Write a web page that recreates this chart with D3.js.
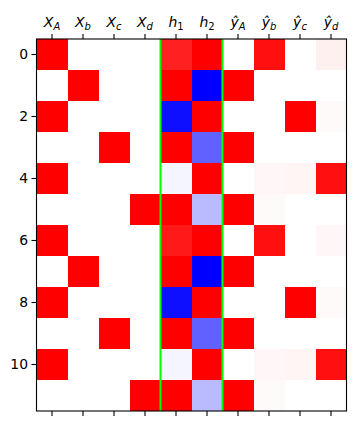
<!DOCTYPE html>
<html><head><meta charset="utf-8">
<script src="https://cdn.jsdelivr.net/npm/d3@7"></script>
<style>body{margin:0;background:#fff}svg{display:block}</style>
</head><body>
<script>
// column labels: [base, subscript, hat]
const colLabels = [["X","A",false],["X","b",false],["X","c",false],["X","d",false],
  ["h","1",false],["h","2",false],["y","A",true],["y","b",true],["y","c",true],["y","d",true]];
const rowIds = d3.range(12);
const rowTicks = [0,2,4,6,8,10];
const separators = [4, 6]; // green lines before these columns
// cell values, rows 0..11, columns XA..yd
const values = [
  [1,0,0,0, 0.87, 1, 0, 0.94, 0, 0.06],
  [0,1,0,0, 1, -1, 1, 0, 0, 0],
  [1,0,0,0, -0.94, 1, 0, 0, 1, 0.02],
  [0,0,1,0, 1, -0.62, 1, 0, 0, 0],
  [1,0,0,0, -0.04, 1, 0, 0.03, 0.04, 0.94],
  [0,0,0,1, 1, -0.27, 1, 0.02, 0, 0],
  [1,0,0,0, 0.9, 1, 0, 0.94, 0, 0.03],
  [0,1,0,0, 1, -1, 1, 0, 0, 0],
  [1,0,0,0, -0.94, 1, 0, 0, 1, 0.02],
  [0,0,1,0, 1, -0.62, 1, 0, 0, 0],
  [1,0,0,0, -0.04, 1, 0, 0.03, 0.04, 0.94],
  [0,0,0,1, 1, -0.27, 1, 0.02, 0, 0]
];

const W = 356, H = 426;
const m = {left: 36.5, right: 9.5, top: 39, bottom: 15};
const svg = d3.select("body").append("svg").attr("width", W).attr("height", H);
const x = d3.scaleBand().domain(d3.range(colLabels.length)).range([m.left, W - m.right]);
const y = d3.scaleBand().domain(rowIds).range([m.top, H - m.bottom]);

function bwr(v){
  v = Math.max(-1, Math.min(1, v));
  if (v < 0) { const c = Math.round(255*(1+v)); return `rgb(${c},${c},255)`; }
  const c = Math.round(255*(1-v)); return `rgb(255,${c},${c})`;
}

const cells = [];
values.forEach((row, i) => row.forEach((v, j) => cells.push({i, j, v})));
svg.append("g").selectAll("rect").data(cells).join("rect")
  .attr("x", d => x(d.j)).attr("y", d => y(d.i))
  .attr("width", x.bandwidth() + 0.3).attr("height", y.bandwidth() + 0.3)
  .attr("fill", d => bwr(d.v)).attr("shape-rendering", "crispEdges");

svg.append("g").selectAll("line").data(separators).join("line")
  .attr("x1", d => x(d)).attr("x2", d => x(d))
  .attr("y1", m.top).attr("y2", H - m.bottom)
  .attr("stroke", "#00ff00").attr("stroke-width", 2);

svg.append("rect").attr("x", m.left).attr("y", m.top)
  .attr("width", W - m.right - m.left).attr("height", H - m.bottom - m.top)
  .attr("fill", "none").attr("stroke", "#000").attr("stroke-width", 1.1);

const font = "DejaVu Sans";
// top axis
const gTop = svg.append("g").attr("transform", `translate(0,${m.top})`)
  .call(d3.axisTop(x).tickSize(5).tickPadding(3));
gTop.select(".domain").remove();
gTop.selectAll("line").attr("stroke", "#000").attr("stroke-width", 1.1);
gTop.selectAll("text").each(function(d){
  const [b, s, hat] = colLabels[d];
  const t = d3.select(this).text("").attr("font-family", font).attr("font-size", 14)
    .attr("fill", "#000").attr("y", -12).attr("dy", 0);
  const base = hat ? "\u0177" : b;
  t.append("tspan").attr("font-style", "italic").text(base);
  t.append("tspan").attr("font-style", /[0-9]/.test(s) ? "normal" : "italic")
    .attr("font-size", 10).attr("dy", 3).text(s);
});

// bottom axis (ticks only)
const gBot = svg.append("g").attr("transform", `translate(0,${H - m.bottom})`)
  .call(d3.axisBottom(x).tickSize(5).tickFormat(""));
gBot.select(".domain").remove();
gBot.selectAll("line").attr("stroke", "#000").attr("stroke-width", 1.1);

// left axis
const gLeft = svg.append("g").attr("transform", `translate(${m.left},0)`)
  .call(d3.axisLeft(y).tickValues(rowTicks).tickSize(5).tickPadding(3.5));
gLeft.select(".domain").remove();
gLeft.selectAll("line").attr("stroke", "#000").attr("stroke-width", 1.1);
gLeft.selectAll("text").attr("font-family", font).attr("font-size", 13.9).attr("fill", "#000");
</script>
</body></html>
